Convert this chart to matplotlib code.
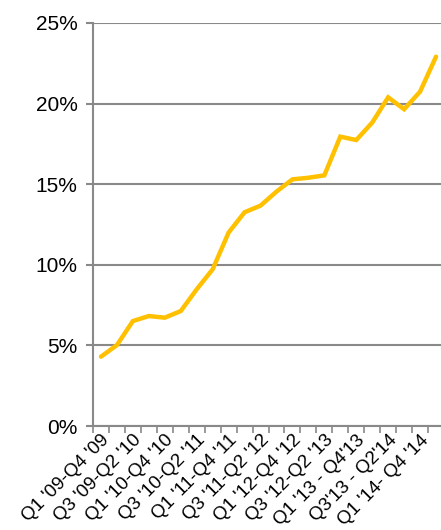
import numpy as np
import matplotlib.pyplot as plt

# Data (percent)
values = [4.30, 5.02, 6.51, 6.82, 6.72, 7.13, 8.48, 9.72, 12.0, 13.26, 13.67,
          14.54, 15.3, 15.4, 15.55, 17.95, 17.74, 18.82, 20.39, 19.65, 20.74, 22.91]
tick_labels = ["Q1 '09-Q4 '09", "Q3 '09-Q2 '10", "Q1 '10-Q4 '10", "Q3 '10-Q2 '11",
               "Q1 '11-Q4 '11", "Q3 '11-Q2 '12", "Q1 '12-Q4 '12", "Q3 '12-Q2 '13",
               "Q1 '13 - Q4'13", "Q3'13 - Q2'14", "Q1 '14- Q4 '14"]
y_ticks = [0, 5, 10, 15, 20, 25]

plt.rcParams['font.family'] = ['Liberation Sans', 'DejaVu Sans']
gray = '#898989'

fig = plt.figure(figsize=(4.41, 5.30), dpi=100)
ax = fig.add_axes([93 / 441, 104 / 530, 351 / 441, 403 / 530])

x = np.arange(len(values))
ax.plot(x, values, color='#FFC000', linewidth=3.2, solid_capstyle='round',
        solid_joinstyle='miter', zorder=3)

ax.set_xlim(-0.5, len(values) - 0.5)
ax.set_ylim(0, 25)
ax.set_yticks(y_ticks)
ax.set_yticklabels([f'{v}%' for v in y_ticks], fontsize=15)
ax.yaxis.grid(True, color=gray, linewidth=1.5)
ax.set_axisbelow(True)

ax.set_xticks(x[::2])
ax.set_xticklabels(tick_labels, rotation=45, ha='right', rotation_mode='anchor',
                   fontsize=13.5)
ax.set_xticks(np.arange(-0.5, len(values)), minor=True)
ax.tick_params(axis='x', which='major', length=0, pad=4)
ax.tick_params(axis='x', which='minor', length=5, width=1.2, color=gray, direction='out')
ax.tick_params(axis='y', length=5, width=1.5, color=gray, pad=6)

for side in ['top', 'right']:
    ax.spines[side].set_visible(False)
for side in ['left', 'bottom']:
    ax.spines[side].set_color(gray)
    ax.spines[side].set_linewidth(1.5)

fig.savefig('out.png', dpi=100)
